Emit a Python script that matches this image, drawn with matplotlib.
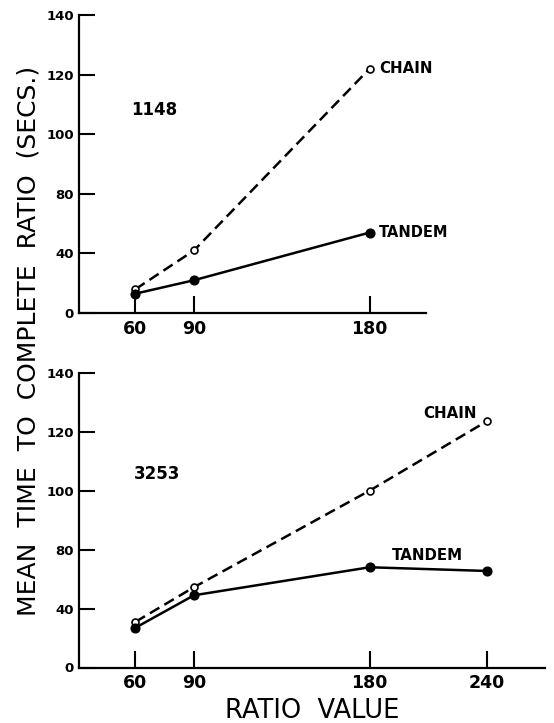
import numpy as np
import matplotlib
matplotlib.use("Agg")
import matplotlib.pyplot as plt

# ---- data ----
x_top = [60, 90, 180]
chain_top = [16, 42, 122]
tandem_top = [13, 22, 54]

x_bot = [60, 90, 180, 240]
chain_bot = [31, 54.5, 100, 123.5]
tandem_bot = [27, 49, 68, 65.5]

ytick_vals = [0, 40, 80, 100, 120, 140]
ytick_labels = ["0", "40", "80", "100", "120", "140"]
xticks_top = [60, 90, 180]
xticks_bot = [60, 90, 180, 240]

# evenly spaced tick positions as printed on the original axis
_pos = np.arange(len(ytick_vals), dtype=float)
def fwd(v):
    return np.interp(v, ytick_vals, _pos)
def inv(u):
    return np.interp(u, _pos, ytick_vals)

plt.rcParams['font.family'] = ['DejaVu Sans']

fig = plt.figure(figsize=(5.54, 7.23), dpi=100)
fig.patch.set_facecolor("white")

ax1 = fig.add_axes([79.3/554, 1-313/723, (426-79.3)/554, 298/723])
ax2 = fig.add_axes([79.3/554, 1-667.5/723, (545-79.3)/554, (667.5-372.7)/723])

lw = 1.8
dash = (4.4, 2.3)

def style(ax, xticks, xlim):
    ax.set_yscale('function', functions=(fwd, inv))
    ax.set_ylim(0, 140)
    ax.set_xlim(*xlim)
    for s in ['top', 'right']:
        ax.spines[s].set_visible(False)
    for s in ['left', 'bottom']:
        ax.spines[s].set_linewidth(1.6)
        ax.spines[s].set_color('black')
    ax.set_yticks(ytick_vals)
    ax.set_yticklabels(ytick_labels, fontweight='bold', fontsize=9.5)
    ax.yaxis.set_minor_locator(matplotlib.ticker.NullLocator())
    ax.set_xticks(xticks)
    ax.set_xticklabels([str(v) for v in xticks], fontweight='bold', fontsize=12.5)
    ax.tick_params(axis='y', direction='in', length=11.5, width=1.5, pad=4)
    ax.tick_params(axis='x', direction='in', length=12, width=1.5, pad=5)
    ax.set_facecolor('white')

# top panel
ax1.plot(x_top, chain_top, color='black', lw=lw, linestyle=(0, dash),
         marker='o', markersize=5, markerfacecolor='white',
         markeredgecolor='black', markeredgewidth=1.2, zorder=3)
ax1.plot(x_top, tandem_top, color='black', lw=lw, marker='o', markersize=6.3,
         markerfacecolor='black', markeredgecolor='black', zorder=4)
style(ax1, xticks_top, (31.2, 208.9))
ax1.text(185, chain_top[-1], "CHAIN", fontsize=10.8, fontweight='bold',
         ha='left', va='center')
ax1.text(185, tandem_top[-1], "TANDEM", fontsize=10.5, fontweight='bold',
         ha='left', va='center')
ax1.text(58, 108, "1148", fontsize=12, fontweight='bold', ha='left', va='center')

# bottom panel
ax2.plot(x_bot, chain_bot, color='black', lw=lw, linestyle=(0, dash),
         marker='o', markersize=5, markerfacecolor='white',
         markeredgecolor='black', markeredgewidth=1.2, zorder=3)
ax2.plot(x_bot, tandem_bot, color='black', lw=lw, marker='o', markersize=6.3,
         markerfacecolor='black', markeredgecolor='black', zorder=4)
style(ax2, xticks_bot, (31.2, 269.9))
ax2.text(235, 126, "CHAIN", fontsize=10.8, fontweight='bold',
         ha='right', va='center')
ax2.text(228, 76, "TANDEM", fontsize=10.8, fontweight='bold',
         ha='right', va='center')
ax2.text(59, 105.5, "3253", fontsize=12, fontweight='bold', ha='left', va='center')

ax2.set_xlabel("RATIO  VALUE", fontsize=18.5, labelpad=4)

fig.text(29/554, 1-341/723, "MEAN  TIME  TO  COMPLETE  RATIO  (SECS.)",
         rotation=90, ha='center', va='center', fontsize=18)

fig.savefig("out.png", dpi=100, facecolor='white')
